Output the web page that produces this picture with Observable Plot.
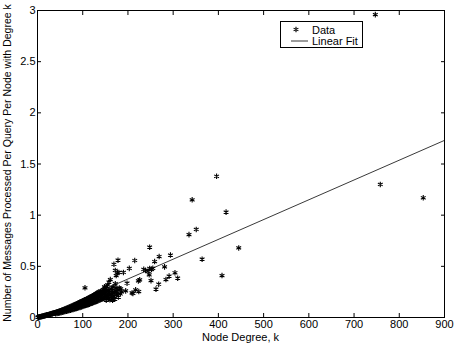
<!DOCTYPE html>
<html><head><meta charset="utf-8">
<script src="https://cdn.jsdelivr.net/npm/d3@7"></script>
<script src="https://cdn.jsdelivr.net/npm/@observablehq/plot@0.6"></script>
<style>body{margin:0;background:#fff;}</style>
</head><body><div id="chart"></div>
<script>
const denseDegree = [
 1,2,3,4,5,6,7,8,9,10, 11,12,13,14,15,16,17,18,19,20,
 21,22,23,24,25,26,27,28,29,30, 31,32,33,34,35,36,37,38,39,40,
 41,42,43,44,45,46,47,48,49,50, 51,52,53,54,55,56,57,58,59,60,
 61,62,63,64,65,66,67,68,69,70, 71,72,73,74,75,76,77,78,79,80,
 81,82,83,84,85,86,87,88,89,90, 91,92,93,94,95,96,97,98,99,100,
 101,102,103,104,105,106,107,108,109,110, 111,112,113,114,115,116,117,118,119,120,
 121,122,123,124,125,126,127,128,129,130, 131,132,133,134,135,136,137,138,139,140,
 141,142,143,144,145,146,147,148,149,150, 151,152,153,154,155,156,157,158,159,160
];
const denseMessages = [
 0.002,0.003,0.004,0.005,0.006,0.007,0.008,0.009,0.010,0.011,
 0.012,0.013,0.015,0.016,0.017,0.018,0.019,0.020,0.022,0.023,
 0.024,0.025,0.027,0.027,0.029,0.030,0.031,0.033,0.033,0.035,
 0.036,0.038,0.038,0.040,0.041,0.043,0.043,0.046,0.046,0.048,
 0.049,0.051,0.050,0.054,0.055,0.053,0.058,0.060,0.057,0.062,
 0.064,0.060,0.067,0.069,0.064,0.072,0.070,0.075,0.068,0.078,
 0.080,0.074,0.083,0.086,0.079,0.089,0.084,0.093,0.088,0.096,
 0.091,0.100,0.094,0.104,0.098,0.108,0.101,0.112,0.106,0.116,
 0.109,0.121,0.113,0.125,0.117,0.130,0.120,0.134,0.124,0.139,
 0.128,0.143,0.131,0.148,0.126,0.152,0.139,0.157,0.135,0.161,
 0.146,0.165,0.140,0.170,0.152,0.174,0.147,0.178,0.160,0.183,
 0.155,0.188,0.166,0.192,0.160,0.197,0.172,0.201,0.168,0.206,
 0.180,0.211,0.175,0.216,0.188,0.221,0.182,0.226,0.196,0.232,
 0.190,0.238,0.205,0.243,0.198,0.250,0.214,0.222,0.208,0.257,
 0.230,0.215,0.262,0.237,0.205,0.272,0.244,0.226,0.286,0.252,
 0.218,0.300,0.262,0.235,0.318,0.270,0.182,0.345,0.248,0.175
];
const lowerDegree = [40,43,46,49,52,55,58,61,64,67,70,73,76,79,82,85,88,91,94,97,100,103,106,109,112,115,118,121,124,127,130,133,136,139,142,145,148,151,154,157,160];
const lowerMessages = [0.036,0.039,0.042,0.045,0.048,0.051,0.055,0.058,0.061,0.065,0.068,0.072,0.076,0.079,0.083,0.087,0.091,0.095,0.099,0.103,0.108,0.112,0.117,0.121,0.126,0.131,0.136,0.140,0.146,0.151,0.156,0.162,0.168,0.173,0.179,0.185,0.190,0.196,0.203,0.210,0.216];
const sparseDegree = [105,148,161,163,165,167,168,169,170,172,172,174,174,175,177,178,178,180,181,184,
 190,195,198,203,209,211,215,217,223,224,226,235,239,245,247,248,248,251,252,255,
 259,262,268,269,281,284,291,294,304,310,335,342,351,364,396,408,417,445,747,758,853,
 162,164,166,169,171,173,176,179,183,186,163,158,155,152,166];
const sparseMessages = [0.29,0.30,0.37,0.23,0.265,0.30,0.20,0.52,0.25,0.46,0.33,0.41,0.29,0.22,0.437,0.56,0.27,0.44,0.287,0.28,
 0.44,0.26,0.335,0.48,0.24,0.235,0.557,0.27,0.358,0.254,0.368,0.47,0.46,0.45,0.417,0.687,0.479,0.36,0.47,0.48,
 0.547,0.277,0.325,0.596,0.495,0.371,0.404,0.61,0.437,0.384,0.81,1.15,0.86,0.57,1.38,0.41,1.03,0.68,2.96,1.30,1.17,
 0.22,0.19,0.24,0.21,0.18,0.26,0.24,0.20,0.23,0.25,0.28,0.26,0.20,0.17,0.17];

const fitSlope = 0.001935;
const fitIntercept = -0.0106;
const xTicks = [0,100,200,300,400,500,600,700,800,900];
const yTicks = [0,0.5,1,1.5,2,2.5,3];
const xLabel = "Node Degree, k";
const yLabel = "Number of Messages Processed Per Query Per Node with Degree k";
const legendLabels = ["Data", "Linear Fit"];

const points = denseDegree.map((k, i) => ({k, v: denseMessages[i]}))
  .concat(lowerDegree.map((k, i) => ({k, v: lowerMessages[i]})))
  .concat(sparseDegree.map((k, i) => ({k, v: sparseMessages[i]})));
const xDomain = [xTicks[0], xTicks[xTicks.length - 1]];
const fitLine = xDomain.map(k => ({k, v: fitIntercept + fitSlope * k}));

const font = "'Liberation Sans', Arial, Helvetica, sans-serif";
const chart = Plot.plot({
  width: 457, height: 346,
  marginLeft: 37, marginRight: 13, marginTop: 10, marginBottom: 29,
  style: {fontFamily: font, fontSize: "11px", background: "white", color: "black"},
  x: {domain: xDomain},
  y: {domain: [yTicks[0], yTicks[yTicks.length - 1]]},
  marks: [
    Plot.line(fitLine, {x: "k", y: "v", stroke: "#222", strokeWidth: 0.9, clip: true}),
    Plot.dot(points, {x: "k", y: "v", symbol: "asterisk", r: 2.6, stroke: "black", strokeWidth: 1.1}),
    Plot.frame({stroke: "black", strokeWidth: 1}),
    Plot.axisX(xTicks, {anchor: "bottom", tickSize: 0, tickPadding: 3, label: null}),
    Plot.axisY(yTicks, {anchor: "left", tickSize: 0, tickPadding: 2, label: null, tickFormat: d => String(d)}),
    Plot.axisX(xTicks, {anchor: "bottom", tickSize: -4, fill: "none", label: null}),
    Plot.axisX(xTicks, {anchor: "top", tickSize: -4, fill: "none", label: null}),
    Plot.axisY(yTicks, {anchor: "left", tickSize: -4, fill: "none", label: null}),
    Plot.axisY(yTicks, {anchor: "right", tickSize: -4, fill: "none", label: null})
  ]
});
document.getElementById("chart").appendChild(chart);

const svg = d3.select(chart);
svg.append("text").attr("x", 240.5).attr("y", 341).attr("text-anchor", "middle")
  .attr("font-family", font).attr("font-size", 11).attr("fill", "black").text(xLabel);
svg.append("text").attr("transform", "translate(11,163) rotate(-90)").attr("text-anchor", "middle")
  .attr("font-family", font).attr("font-size", 10.5).attr("fill", "black").text(yLabel);

const lg = svg.append("g").attr("text-anchor", "start");
lg.append("rect").attr("x", 280.5).attr("y", 21.5).attr("width", 82).attr("height", 26)
  .attr("fill", "white").attr("stroke", "black").attr("stroke-width", 1);
lg.append("path").attr("d", d3.symbol(d3.symbolAsterisk, Math.PI * 2.6 * 2.6)())
  .attr("transform", "translate(296,29.5)").attr("fill", "none").attr("stroke", "black").attr("stroke-width", 1.1);
lg.append("line").attr("x1", 291).attr("x2", 308).attr("y1", 41).attr("y2", 41)
  .attr("stroke", "#222").attr("stroke-width", 0.9);
lg.append("text").attr("x", 312).attr("y", 33.5).attr("text-anchor", "start").attr("font-family", font).attr("font-size", 11)
  .attr("fill", "black").text(legendLabels[0]);
lg.append("text").attr("x", 312).attr("y", 44.5).attr("text-anchor", "start").attr("font-family", font).attr("font-size", 11)
  .attr("fill", "black").text(legendLabels[1]);
</script>
</body></html>
